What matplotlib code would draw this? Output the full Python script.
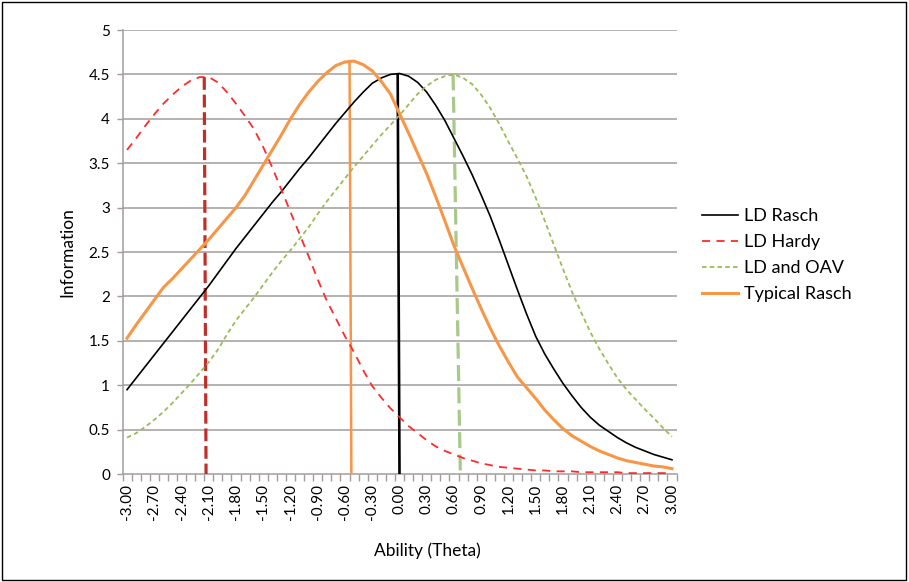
import numpy as np
import matplotlib
matplotlib.use("Agg")
from matplotlib import pyplot as plt
from matplotlib.patches import Rectangle

plt.rcParams['font.family'] = ['Lato', 'DejaVu Sans']

# ability categories, every 0.1 from -3 to 3
theta = np.round(np.linspace(-3.0, 3.0, 61), 2)

ld_rasch = [0.95, 1.08, 1.21, 1.34, 1.47, 1.60, 1.73, 1.86, 1.99, 2.12,
            2.26, 2.40, 2.54, 2.67, 2.80, 2.93, 3.06, 3.18, 3.31, 3.44,
            3.56, 3.69, 3.82, 3.95, 4.07, 4.19, 4.30, 4.40, 4.46, 4.50,
            4.51, 4.48, 4.41, 4.30, 4.15, 3.98, 3.78, 3.58, 3.37, 3.14,
            2.90, 2.63, 2.35, 2.07, 1.80, 1.55, 1.35, 1.18, 1.02, 0.88,
            0.75, 0.64, 0.55, 0.48, 0.41, 0.35, 0.30, 0.26, 0.22, 0.19,
            0.16]

ld_hardy = [3.65, 3.78, 3.92, 4.05, 4.17, 4.27, 4.36, 4.43, 4.47, 4.47,
            4.41, 4.30, 4.17, 4.03, 3.88, 3.68, 3.45, 3.20, 2.95, 2.70,
            2.45, 2.19, 1.95, 1.75, 1.55, 1.37, 1.17, 0.99, 0.86, 0.74,
            0.64, 0.54, 0.46, 0.38, 0.31, 0.26, 0.22, 0.18, 0.15, 0.12,
            0.10, 0.08, 0.07, 0.06, 0.05, 0.04, 0.04, 0.03, 0.03, 0.03,
            0.02, 0.02, 0.02, 0.02, 0.02, 0.01, 0.01, 0.01, 0.01, 0.01,
            0.01]

ld_oav = [0.41, 0.46, 0.53, 0.61, 0.70, 0.80, 0.91, 1.02, 1.14, 1.26,
          1.40, 1.57, 1.73, 1.86, 1.99, 2.13, 2.27, 2.40, 2.52, 2.65,
          2.78, 2.93, 3.07, 3.20, 3.33, 3.46, 3.58, 3.70, 3.82, 3.93,
          4.04, 4.16, 4.28, 4.37, 4.44, 4.48, 4.50, 4.46, 4.39, 4.27,
          4.12, 3.94, 3.74, 3.55, 3.35, 3.11, 2.85, 2.58, 2.31, 2.05,
          1.82, 1.60, 1.41, 1.24, 1.08, 0.95, 0.84, 0.73, 0.63, 0.52,
          0.42]

typical_rasch = [1.53, 1.68, 1.82, 1.96, 2.10, 2.20, 2.31, 2.42, 2.53, 2.64,
                 2.76, 2.88, 3.00, 3.14, 3.31, 3.48, 3.65, 3.82, 4.00, 4.16,
                 4.30, 4.42, 4.52, 4.60, 4.64, 4.65, 4.61, 4.54, 4.42, 4.28,
                 4.06, 3.84, 3.61, 3.38, 3.12, 2.85, 2.57, 2.33, 2.09, 1.86,
                 1.64, 1.44, 1.26, 1.09, 0.97, 0.85, 0.72, 0.61, 0.51, 0.43,
                 0.37, 0.31, 0.26, 0.22, 0.18, 0.15, 0.13, 0.11, 0.09, 0.08,
                 0.06]

# peak markers: x at top, x at bottom, peak height
peak_hardy = (-2.15, -2.13, 4.47)
peak_typical = (-0.55, -0.53, 4.65)
peak_rasch = (-0.02, 0.00, 4.50)
peak_oav = (0.59, 0.67, 4.50)

xtick_vals = [-3.0 + 0.3 * k for k in range(21)]
xtick_labels = ["-3.00", "-2.70", "-2.40", "-2.10", "-1.80", "-1.50", "-1.20",
                "-0.90", "-0.60", "-0.30", "0.00", "0.30", "0.60", "0.90",
                "1.20", "1.50", "1.80", "2.10", "2.40", "2.70", "3.00"]
ytick_vals = [0, 0.5, 1, 1.5, 2, 2.5, 3, 3.5, 4, 4.5, 5]
ytick_labels = ["0", "0.5", "1", "1.5", "2", "2.5", "3", "3.5", "4", "4.5", "5"]

fig = plt.figure(figsize=(9.09, 5.82), dpi=100)
ax = fig.add_axes([122.5 / 909, 108 / 582, 554 / 909, 444 / 582])

grid_col = "#a39c9c"
for v in ytick_vals[1:]:
    ax.axhline(v, color=grid_col, lw=1.1, zorder=1)

# vertical peak lines
ax.plot([peak_hardy[0], peak_hardy[1]], [peak_hardy[2], 0], color="#c0302b",
        lw=2.3, dashes=(4, 1.5), zorder=3)
ax.plot([peak_typical[0], peak_typical[1]], [peak_typical[2], 0], color="#f79646",
        lw=1.8, zorder=3)
ax.plot([peak_rasch[0], peak_rasch[1]], [peak_rasch[2], 0], color="black",
        lw=1.9, zorder=3)
ax.plot([peak_oav[0], peak_oav[1]], [peak_oav[2], 0], color="#a9c98b",
        lw=2.3, dashes=(5, 2), zorder=3)

ax.plot(theta, ld_rasch, color="black", lw=1.2, label="LD Rasch", zorder=4)
ax.plot(theta, ld_hardy, color="#ff2a2a", lw=1.3, dashes=(4.5, 3.5),
        label="LD Hardy", zorder=4)
ax.plot(theta, ld_oav, color="#9bbb59", lw=1.3, dashes=(2.5, 1.8),
        label="LD and OAV", zorder=4)
ax.plot(theta, typical_rasch, color="#f79646", lw=2.2, label="Typical Rasch",
        zorder=4)

ax.set_xlim(-3.05, 3.05)
ax.set_ylim(0, 5)
ax.set_xticks(xtick_vals)
ax.set_xticklabels(xtick_labels, rotation=90, fontsize=11)
ax.set_xticks(np.arange(-3.05, 3.06, 0.1), minor=True)
ax.set_yticks(ytick_vals)
ax.set_yticklabels(ytick_labels, fontsize=11)
ax.tick_params(axis="x", which="major", length=0, pad=7)
ax.tick_params(axis="x", which="minor", length=5, color=grid_col, width=1)
ax.tick_params(axis="y", length=4, color=grid_col, width=1, pad=5)

for s in ["top", "right"]:
    ax.spines[s].set_visible(False)
for s in ["left", "bottom"]:
    ax.spines[s].set_color(grid_col)
    ax.spines[s].set_linewidth(1.1)

ax.set_xlabel("Ability (Theta)", fontsize=12.5)
ax.xaxis.set_label_coords(0.551, -0.155)
ax.set_ylabel("Information", fontsize=12.5)
ax.yaxis.set_label_coords(-0.085, 0.5)

ax.legend(loc="center left", bbox_to_anchor=(702 / 909, 327 / 582),
          bbox_transform=fig.transFigure, frameon=False, fontsize=13,
          handlelength=2.0, handletextpad=0.35, labelspacing=0.55,
          borderpad=0, borderaxespad=0)

fig.add_artist(Rectangle((0.002, 0.003), 0.995, 0.994, transform=fig.transFigure,
                         fill=False, edgecolor="black", lw=1))

fig.savefig("out.png", dpi=100)
